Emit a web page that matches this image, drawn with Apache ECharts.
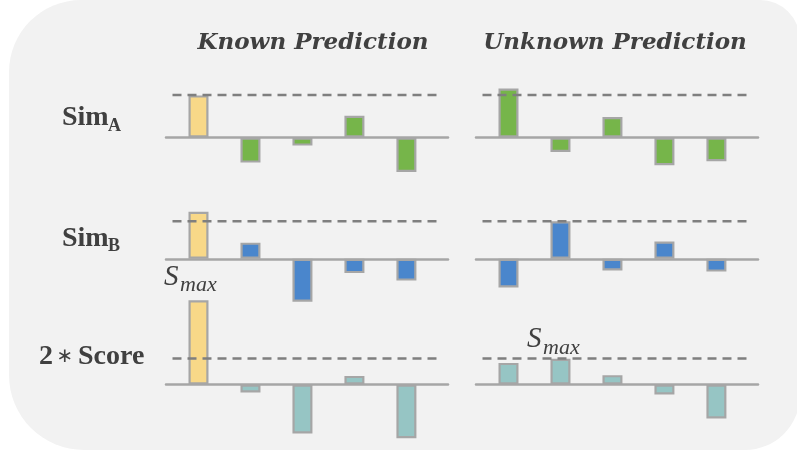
<!DOCTYPE html>
<html><head><meta charset="utf-8">
<script src="https://cdn.jsdelivr.net/npm/echarts@6/dist/echarts.min.js"></script>
<style>html,body{margin:0;padding:0;background:#fff}#c{width:797px;height:453px}</style>
</head><body><div id="c"></div>
<script>
// ---- data ----
const panelTitles = ['Known Prediction', 'Unknown Prediction'];
const rowLabelMain = ['Sim', 'Sim', 'Score'];
const rowLabelSub = ['A', 'B', ''];
const positions = [1, 2, 3, 4, 5];
const knownSimA = [0.99, -0.59, -0.19, 0.51, -0.81];
const unknownSimA = [1.15, -0.34, 0.48, -0.65, -0.56];
const knownSimB = [1.25, 0.43, -1.14, -0.38, -0.58];
const unknownSimB = [-0.76, 1.0, -0.31, 0.46, -0.34];
const knownScore = [3.24, -0.31, -1.88, 0.33, -2.07];
const unknownScore = [0.83, 0.99, 0.36, -0.38, -1.31];
const thresholds = [1, 1, 1];
const smaxLabel = ['S', 'max'];

// ---- layout / style ----
const rowColors = ['#76B54A', '#4A86CC', '#96C5C4'];
const highlight = '#F8D888';
const rows = [
  {base: 137.5, k: 42.5, min: -1.2, max: 1.5},
  {base: 258.8, k: 37.6, min: -1.5, max: 1.5},
  {base: 384.5, k: 26, min: -2.5, max: 3.5}
];
const cols = [{left: 166, known: true}, {left: 476, known: false}];
const seriesData = [[knownSimA, unknownSimA], [knownSimB, unknownSimB], [knownScore, unknownScore]];

const grids = [], xAxes = [], yAxes = [], series = [];
rows.forEach((r, ri) => {
  cols.forEach((c, ci) => {
    const g = grids.length;
    grids.push({left: c.left, width: 282, top: r.base - r.max * r.k, height: (r.max - r.min) * r.k});
    xAxes.push({gridIndex: g, type: 'value', min: 0.375, max: 5.8,
      axisLine: {show: true, onZero: true, lineStyle: {color: '#A6A6A6', width: 2.5}},
      axisTick: {show: false}, axisLabel: {show: false}, splitLine: {show: false}});
    yAxes.push({gridIndex: g, type: 'value', min: r.min, max: r.max, show: false,
      splitLine: {show: false}, axisLine: {show: false}});
    const arr = seriesData[ri][ci];
    series.push({type: 'bar', xAxisIndex: g, yAxisIndex: g, barWidth: 20, z: 2,
      data: positions.map((p, i) => ({value: [p, arr[i]],
        itemStyle: {color: (c.known && i === 0) ? highlight : rowColors[ri]}})),
      itemStyle: {borderColor: '#A6A6A6', borderWidth: 2.2}});
    series.push({type: 'line', xAxisIndex: g, yAxisIndex: g, z: 5, symbol: 'none', silent: true,
      data: [[0.5, thresholds[ri]], [5.67, thresholds[ri]]],
      lineStyle: {color: '#7F7F7F', width: 2.4, type: [9, 6]}});
  });
});

const txtColor = '#404040';
const T = (text, x, y, o) => ({type: 'text', x, y, z: 100, style: Object.assign({text, fill: txtColor,
  fontFamily: 'Liberation Serif', fontWeight: 'bold', fontSize: 28, textAlign: 'left', textVerticalAlign: 'middle'}, o || {})});

const graphic = [
  {type: 'rect', z: -100, shape: {x: 9, y: 0, width: 791, height: 450, r: [72, 40, 55, 75]}, style: {fill: '#F2F2F2'}},
  T(panelTitles[0], 313, 43, {fontFamily: 'DejaVu Serif', fontStyle: 'italic', fontSize: 23, textAlign: 'center'}),
  T(panelTitles[1], 615, 43, {fontFamily: 'DejaVu Serif', fontStyle: 'italic', fontSize: 23, textAlign: 'center'}),
  T(rowLabelMain[0], 62, 117.5),
  T(rowLabelSub[0], 108, 126, {fontSize: 18}),
  T(rowLabelMain[1], 62, 238.8),
  T(rowLabelSub[1], 108, 246, {fontSize: 18}),
  T('2', 39, 357),
  T('∗', 65, 357, {fontFamily: 'DejaVu Sans', fontWeight: 'normal', fontSize: 20, textAlign: 'center'}),
  T(rowLabelMain[2], 78, 357),
  T(smaxLabel[0], 164, 277.5, {fontWeight: 'normal', fontStyle: 'italic', fontSize: 29}),
  T(smaxLabel[1], 180, 285.5, {fontWeight: 'normal', fontStyle: 'italic', fontSize: 22}),
  T(smaxLabel[0], 527, 339, {fontWeight: 'normal', fontStyle: 'italic', fontSize: 29}),
  T(smaxLabel[1], 543, 348.5, {fontWeight: 'normal', fontStyle: 'italic', fontSize: 22})
];

const chart = echarts.init(document.getElementById('c'), null, {renderer: 'canvas'});
chart.setOption({animation: false, backgroundColor: '#FFFFFF', grid: grids, xAxis: xAxes, yAxis: yAxes, series, graphic});
</script></body></html>
